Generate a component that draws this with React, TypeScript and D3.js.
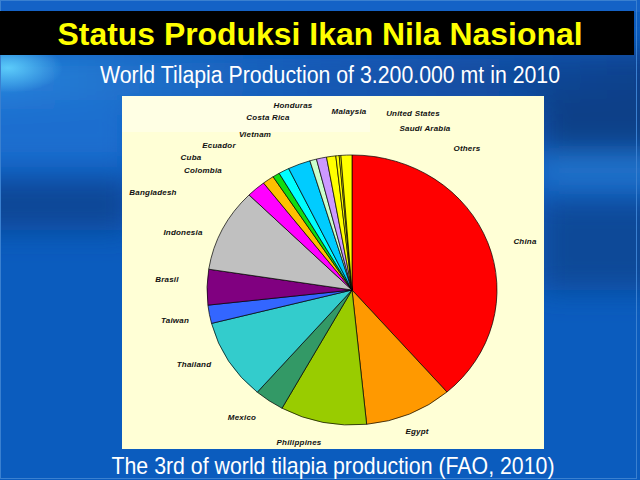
import React from "react";
import * as d3 from "d3";

const countries = ["China", "Egypt", "Philippines", "Mexico", "Thailand", "Taiwan", "Brasil", "Indonesia", "Bangladesh", "Colombia", "Cuba", "Ecuador", "Vietnam", "Costa Rica", "Honduras", "Malaysia", "United States", "Saudi Arabia", "Others"];
const production = [1236, 312, 308, 106, 310, 70, 136, 319, 68, 41, 25, 38, 80, 24, 36, 33, 12, 6, 39];
const sliceColors = ["#FF0000", "#FF9900", "#99CC00", "#339966", "#33CCCC", "#3366FF", "#800080", "#C0C0C0", "#FF00FF", "#FFC000", "#11DD11", "#00FFFF", "#00CCFF", "#CCFFCC", "#CC99FF", "#FFFF00", "#FFFF00", "#FFFF00", "#FFFF00"];
// label anchor positions (Excel-placed)
const labelAnchors: [number, number][] = [
  [525, 241], [417, 431], [299, 442], [242, 417], [194, 364], [175, 320], [167, 279], [183, 232],
  [153, 192], [203, 170], [191, 157], [219, 145], [255, 134], [268, 117], [293, 105], [349, 111],
  [413, 113], [425, 128], [467, 148],
];

const titleText = "Status Produksi Ikan Nila Nasional";
const subtitleText = "World Tilapia Production of 3.200.000 mt in 2010";
const footerText = "The 3rd of world tilapia production (FAO, 2010)";

const W = 640, H = 480;
const CX = 352, CY = 290, RX = 145, RY = 135;

export default function App() {
  const data = countries.map((c, i) => ({ name: c, value: production[i], color: sliceColors[i] }));
  const pie = d3.pie<any>().sort(null).value((d: any) => d.value).startAngle(0).endAngle(2 * Math.PI);
  const arcs = pie(data);
  const arc = d3.arc<any>().innerRadius(0).outerRadius(RX);

  return (
    <svg width={W} height={H} style={{ position: "absolute", left: 0, top: 0 }} fontFamily="'Liberation Sans', Arial, sans-serif">
      <defs>
        <filter id="blur" x="-50%" y="-50%" width="200%" height="200%">
          <feGaussianBlur stdDeviation="14" />
        </filter>
        <linearGradient id="topband" x1="0" x2="1" y1="0" y2="0">
          <stop offset="0" stopColor="#2A88E0" />
          <stop offset="0.5" stopColor="#1559B4" />
          <stop offset="1" stopColor="#0E3E88" />
        </linearGradient>
        <radialGradient id="glow" cx="0.5" cy="0.5" r="0.5">
          <stop offset="0" stopColor="#5CCBFA" stopOpacity="1" />
          <stop offset="1" stopColor="#5CCBFA" stopOpacity="0" />
        </radialGradient>
      </defs>
      {/* background */}
      <rect x={0} y={0} width={W} height={H} fill="#0B5CBE" />
      <g filter="url(#blur)">
        <rect x={-40} y={50} width={720} height={60} fill="url(#topband)" />
        <rect x={-40} y={100} width={170} height={65} fill="#1E6ECF" />
        <rect x={-40} y={180} width={170} height={50} fill="#0C4796" />
        <rect x={540} y={90} width={140} height={60} fill="#0E3F88" />
        <rect x={540} y={160} width={140} height={22} fill="#2A7CD0" />
        <rect x={540} y={200} width={140} height={90} fill="#0F4A98" />
      </g>
      <ellipse cx={8} cy={68} rx={55} ry={25} fill="url(#glow)" />
      <rect x={0} y={0} width={W} height={12} fill="#1462C6" />
      <rect x={0.5} y={0.5} width={636} height={478} fill="none" stroke="#3A80D0" strokeWidth={1} />
      {/* title band */}
      <rect x={0} y={11} width={634} height={44} fill="#000000" />
      <text x={320} y={45} textAnchor="middle" fill="#FFFF00" fontWeight="bold" fontSize={32} textLength={525} lengthAdjust="spacingAndGlyphs">{titleText}</text>
      <text x={330} y={83} textAnchor="middle" fill="#FFFFFF" fontSize={23} textLength={460} lengthAdjust="spacingAndGlyphs">{subtitleText}</text>
      {/* chart panel */}
      <rect x={122} y={96} width={422} height={353} fill="#FFFFD6" />
      <rect x={122} y={96} width={248} height={36} fill="#FFFFE4" />
      <g transform={`translate(${CX},${CY}) scale(1,${RY / RX})`}>
        {arcs.map((a, i) => (
          <path key={i} d={arc(a) as string} fill={a.data.color} stroke="#000" strokeWidth={0.7} vectorEffect="non-scaling-stroke" />
        ))}
      </g>
      <g fontSize={8} fontWeight="bold" fontStyle="italic" fill="#111" textAnchor="middle">
        {arcs.map((a, i) => (
          <text key={i} x={labelAnchors[i][0]} y={labelAnchors[i][1] + 3} letterSpacing={0.2}>{a.data.name}</text>
        ))}
      </g>
      <text x={333} y={474} textAnchor="middle" fill="#FFFFFF" fontSize={24} textLength={443} lengthAdjust="spacingAndGlyphs">{footerText}</text>
    </svg>
  );
}
